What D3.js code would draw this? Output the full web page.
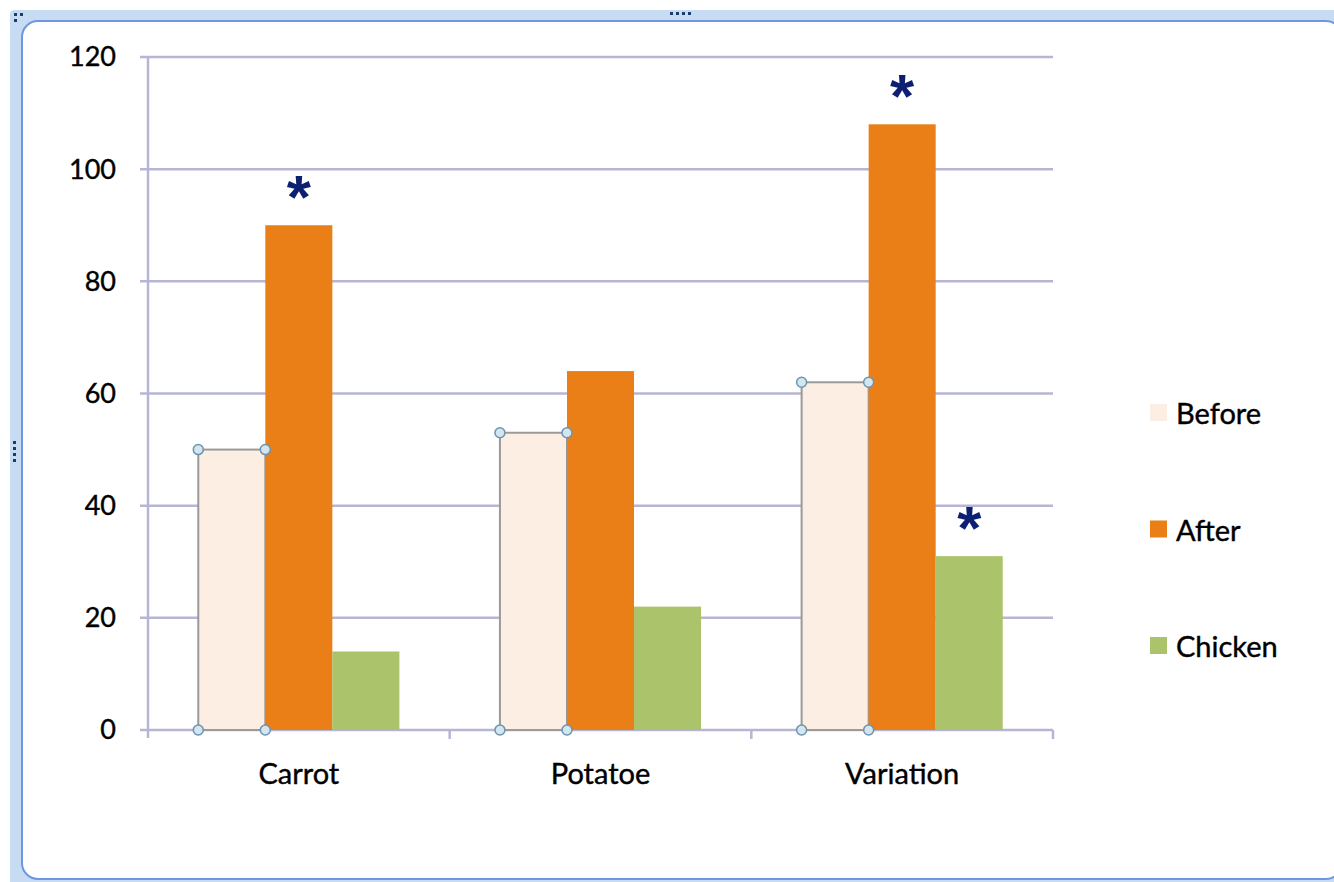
<!DOCTYPE html>
<html>
<head>
<meta charset="utf-8">
<script src="https://cdn.jsdelivr.net/npm/d3@7"></script>
<style>
  body { margin: 0; background: #fff; }
  text { font-family: Lato, "Open Sans", sans-serif; fill: #000; stroke: #000; stroke-width: 0.4px; }
</style>
</head>
<body>
<svg id="chart" width="1334" height="882"></svg>
<script>
var categories = ["Carrot", "Potatoe", "Variation"],
    series = ["Before", "After", "Chicken"],
    before = [50, 53, 62],
    after = [90, 64, 108],
    chicken = [14, 22, 31],
    yTicks = [0, 20, 40, 60, 80, 100, 120],
    // [category, series] pairs marked as significant
    starred = [["Carrot", "After"], ["Variation", "After"], ["Variation", "Chicken"]];

var values = { Before: before, After: after, Chicken: chicken };
var colors = { Before: "#fdeee3", After: "#ea7f18", Chicken: "#abc36a" };

var svg = d3.select("#chart");

// frame of the embedded chart object
svg.append("rect")
    .attr("x", 10).attr("y", 10)
    .attr("width", 1340).attr("height", 880)
    .attr("rx", 4)
    .style("fill", "#c7dbf3");
svg.append("rect")
    .attr("x", 22).attr("y", 21)
    .attr("width", 1320).attr("height", 858)
    .attr("rx", 16)
    .style("fill", "#fff")
    .style("stroke", "#6e96e2")
    .style("stroke-width", 2);

// little sizing handles
[0, 1, 2, 3].forEach(function(i) {
  svg.append("rect").attr("x", 670 + i * 6).attr("y", 12).attr("width", 3).attr("height", 3).style("fill", "#1c3c70");
  svg.append("rect").attr("x", 13).attr("y", 441 + i * 6).attr("width", 3).attr("height", 3).style("fill", "#1c3c70");
});
svg.append("rect").attr("x", 14).attr("y", 13).attr("width", 3).attr("height", 3).style("fill", "#1c3c70");
svg.append("rect").attr("x", 20).attr("y", 13).attr("width", 3).attr("height", 3).style("fill", "#1c3c70");
svg.append("rect").attr("x", 14).attr("y", 19).attr("width", 3).attr("height", 3).style("fill", "#1c3c70");

var plotLeft = 148, plotRight = 1053, plotTop = 57, plotBottom = 730;

var x0 = d3.scaleBand()
    .domain(categories)
    .range([plotLeft, plotRight]);

var x1 = d3.scaleBand()
    .domain(series)
    .range([0, x0.bandwidth()])
    .paddingOuter(0.75);

var y = d3.scaleLinear()
    .domain([0, 120])
    .range([plotBottom, plotTop]);

var gridColor = "#b6b6d4";

// gridlines
svg.append("g")
    .selectAll("line")
    .data(yTicks)
  .join("line")
    .attr("x1", plotLeft - 8).attr("x2", plotRight)
    .attr("y1", function(d) { return y(d); })
    .attr("y2", function(d) { return y(d); })
    .style("stroke", gridColor)
    .style("stroke-width", 2.5);

// y axis line
svg.append("line")
    .attr("x1", plotLeft).attr("x2", plotLeft)
    .attr("y1", plotTop).attr("y2", plotBottom + 8)
    .style("stroke", gridColor)
    .style("stroke-width", 2.5);

// category separators on the x axis
svg.append("g")
    .selectAll("line")
    .data(categories.slice(1).concat(["end"]))
  .join("line")
    .attr("x1", function(d) { return d === "end" ? plotRight : x0(d); })
    .attr("x2", function(d) { return d === "end" ? plotRight : x0(d); })
    .attr("y1", plotBottom).attr("y2", plotBottom + 9)
    .style("stroke", gridColor)
    .style("stroke-width", 2.5);

// y tick labels
svg.append("g")
    .selectAll("text")
    .data(yTicks)
  .join("text")
    .attr("x", 116)
    .attr("y", function(d) { return y(d); })
    .attr("dy", "0.35em")
    .attr("text-anchor", "end")
    .style("font-size", "27px")
    .text(function(d) { return d; });

// category labels
svg.append("g")
    .selectAll("text")
    .data(categories)
  .join("text")
    .attr("x", function(d) { return x0(d) + x0.bandwidth() / 2; })
    .attr("y", 784)
    .attr("text-anchor", "middle")
    .style("font-size", "29px")
    .text(function(d) { return d; });

// bars
var groups = svg.append("g")
    .selectAll("g")
    .data(categories)
  .join("g")
    .attr("transform", function(d) { return "translate(" + x0(d) + ",0)"; });

groups.selectAll("rect")
    .data(function(d, i) { return series.map(function(s) { return { cat: d, key: s, value: values[s][i] }; }); })
  .join("rect")
    .attr("x", function(d) { return x1(d.key); })
    .attr("y", function(d) { return y(d.value); })
    .attr("width", x1.bandwidth())
    .attr("height", function(d) { return y(0) - y(d.value); })
    .style("fill", function(d) { return colors[d.key]; })
    .style("stroke", function(d) { return d.key === "Before" ? "#9a9a9a" : "none"; })
    .style("stroke-width", 2);

// selection handles on the Before series
groups.each(function(d, i) {
  var g = d3.select(this),
      xa = x1("Before"),
      xb = x1("Before") + x1.bandwidth();
  [[xa, y(before[i])], [xb, y(before[i])], [xa, y(0)], [xb, y(0)]].forEach(function(p) {
    g.append("circle")
        .attr("cx", p[0]).attr("cy", p[1])
        .attr("r", 5)
        .style("fill", "#d3e6ee")
        .style("stroke", "#6d93b3")
        .style("stroke-width", 1.5);
  });
});

// significance stars
svg.append("g")
    .selectAll("text")
    .data(starred)
  .join("text")
    .attr("x", function(d) { return x0(d[0]) + x1(d[1]) + x1.bandwidth() / 2; })
    .attr("y", function(d) { return y(values[d[1]][categories.indexOf(d[0])]) - 7; })
    .attr("text-anchor", "middle")
    .style("font-family", "'Liberation Sans', Arial, sans-serif")
    .style("font-weight", "bold")
    .style("font-size", "62px")
    .style("fill", "#0d1f72")
    .style("stroke", "none")
    .text("*");

// legend
var legend = svg.append("g")
    .selectAll("g")
    .data(series)
  .join("g")
    .attr("transform", function(d, i) { return "translate(1150," + (404 + i * 116.5) + ")"; });

legend.append("rect")
    .attr("width", 17).attr("height", 17)
    .style("fill", function(d) { return colors[d]; });

legend.append("text")
    .attr("x", 26).attr("y", 10)
    .attr("dy", "0.35em")
    .style("font-size", "29px")
    .text(function(d) { return d; });
</script>
</body>
</html>
